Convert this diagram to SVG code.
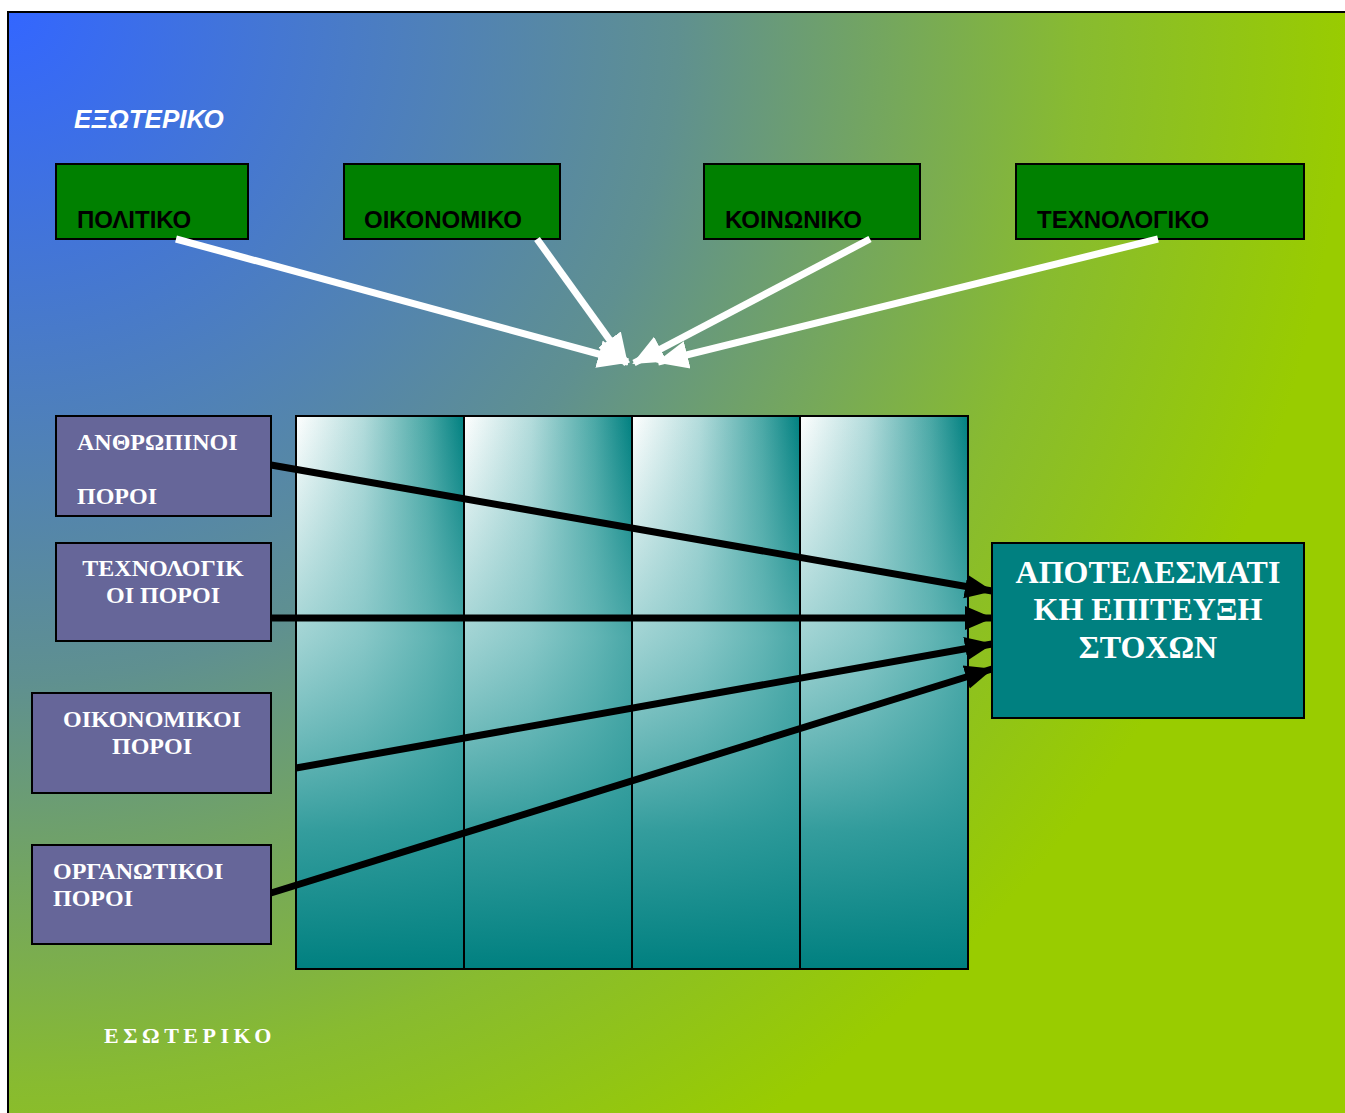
<svg xmlns="http://www.w3.org/2000/svg" width="1345" height="1113" viewBox="0 0 1345 1113">
<defs>
<radialGradient id="bg" gradientUnits="userSpaceOnUse" cx="8" cy="12" r="1340">
<stop offset="0" stop-color="#3366ff"/>
<stop offset="0.5" stop-color="#5f9090"/>
<stop offset="0.8" stop-color="#88bb30"/>
<stop offset="1" stop-color="#99cc00"/>
</radialGradient>
<linearGradient id="colH" x1="0" y1="0" x2="1" y2="0">
<stop offset="0" stop-color="#ffffff"/>
<stop offset="0.4" stop-color="#b4dcdc"/>
<stop offset="0.78" stop-color="#4aa8a6"/>
<stop offset="1" stop-color="#008080"/>
</linearGradient>
<linearGradient id="colV" x1="0" y1="0" x2="0" y2="1">
<stop offset="0" stop-color="#6fbcbc" stop-opacity="0"/>
<stop offset="0.4" stop-color="#6fbcbc" stop-opacity="0.65"/>
<stop offset="0.75" stop-color="#2a9898" stop-opacity="0.95"/>
<stop offset="1" stop-color="#008080" stop-opacity="1"/>
</linearGradient>
<marker id="wh" markerUnits="userSpaceOnUse" markerWidth="32" markerHeight="32" viewBox="0 0 32 32" refX="30" refY="16" orient="auto">
<path d="M0,2 L32,16 L0,30 Z" fill="#ffffff"/>
</marker>
<marker id="bk" markerUnits="userSpaceOnUse" markerWidth="28" markerHeight="28" viewBox="0 0 28 28" refX="27" refY="14" orient="auto">
<path d="M0,2 L28,14 L0,26 Z" fill="#000000"/>
</marker>
</defs>
<style>
.gbox{fill:#008000;stroke:#000;stroke-width:2}
.gtxt{font-family:"Liberation Sans",Arial,sans-serif;font-weight:bold;font-size:24px;fill:#000}
.pbox{fill:#666699;stroke:#000;stroke-width:2}
.ptxt{font-family:"Liberation Serif","Times New Roman",serif;font-weight:bold;font-size:24px;fill:#fff}
.col{stroke:#000;stroke-width:2}
.wa{stroke:#fff;stroke-width:7;fill:none}
.ba{stroke:#000;stroke-width:7;fill:none}
</style>
<rect x="0" y="0" width="1345" height="1113" fill="#ffffff"/>
<rect x="8" y="12" width="1340" height="1105" fill="url(#bg)" stroke="#000" stroke-width="2"/>

<text x="74" y="128" font-family="Liberation Sans,Arial,sans-serif" font-weight="bold" font-style="italic" font-size="26" fill="#fff">ΕΞΩΤΕΡΙΚΟ</text>
<text x="104" y="1043" font-family="Liberation Serif,Times New Roman,serif" font-weight="bold" font-size="22" letter-spacing="4.5" fill="#fff">ΕΣΩΤΕΡΙΚΟ</text>

<g id="columns">
<g id="col1"><rect x="296" y="416" width="168" height="553" fill="url(#colH)"/><rect class="col" x="296" y="416" width="168" height="553" fill="url(#colV)"/></g>
<g id="col2"><rect x="464" y="416" width="168" height="553" fill="url(#colH)"/><rect class="col" x="464" y="416" width="168" height="553" fill="url(#colV)"/></g>
<g id="col3"><rect x="632" y="416" width="168" height="553" fill="url(#colH)"/><rect class="col" x="632" y="416" width="168" height="553" fill="url(#colV)"/></g>
<g id="col4"><rect x="800" y="416" width="168" height="553" fill="url(#colH)"/><rect class="col" x="800" y="416" width="168" height="553" fill="url(#colV)"/></g>
</g>

<g id="politiko"><rect class="gbox" x="56" y="164" width="192" height="75"/><text class="gtxt" x="77" y="228">ΠΟΛΙΤΙΚΟ</text></g>
<g id="oikonomiko"><rect class="gbox" x="344" y="164" width="216" height="75"/><text class="gtxt" x="364" y="228">ΟΙΚΟΝΟΜΙΚΟ</text></g>
<g id="koinoniko"><rect class="gbox" x="704" y="164" width="216" height="75"/><text class="gtxt" x="725" y="228">ΚΟΙΝΩΝΙΚΟ</text></g>
<g id="technologiko"><rect class="gbox" x="1016" y="164" width="288" height="75"/><text class="gtxt" x="1037" y="228">ΤΕΧΝΟΛΟΓΙΚΟ</text></g>

<g id="anthropinoi"><rect class="pbox" x="56" y="416" width="215" height="100"/><text class="ptxt" x="77" y="450">ΑΝΘΡΩΠΙΝΟΙ</text><text class="ptxt" x="77" y="504">ΠΟΡΟΙ</text></g>
<g id="technologikoi"><rect class="pbox" x="56" y="543" width="215" height="98"/><text class="ptxt" x="163" y="576" text-anchor="middle">ΤΕΧΝΟΛΟΓΙΚ</text><text class="ptxt" x="163" y="603" text-anchor="middle">ΟΙ ΠΟΡΟΙ</text></g>
<g id="oikonomikoi"><rect class="pbox" x="32" y="693" width="239" height="100"/><text class="ptxt" x="152" y="727" text-anchor="middle">ΟΙΚΟΝΟΜΙΚΟΙ</text><text class="ptxt" x="152" y="754" text-anchor="middle">ΠΟΡΟΙ</text></g>
<g id="organotikoi"><rect class="pbox" x="32" y="845" width="239" height="99"/><text class="ptxt" x="53" y="879">ΟΡΓΑΝΩΤΙΚΟΙ</text><text class="ptxt" x="53" y="906">ΠΟΡΟΙ</text></g>

<g id="stoxoi"><rect x="992" y="543" width="312" height="175" fill="#008080" stroke="#000" stroke-width="2"/>
<g font-family="Liberation Serif,Times New Roman,serif" font-weight="bold" font-size="32" fill="#fff" text-anchor="middle">
<text x="1148" y="583">ΑΠΟΤΕΛΕΣΜΑΤΙ</text><text x="1148" y="620">ΚΗ ΕΠΙΤΕΥΞΗ</text><text x="1148" y="658">ΣΤΟΧΩΝ</text></g></g>

<g id="connectors">
<line class="wa" x1="176" y1="239" x2="628" y2="362" marker-end="url(#wh)"/>
<line class="wa" x1="537" y1="239" x2="627" y2="364" marker-end="url(#wh)"/>
<line class="wa" x1="870" y1="239" x2="634" y2="363" marker-end="url(#wh)"/>
<line class="wa" x1="1158" y1="239" x2="658" y2="362" marker-end="url(#wh)"/>
<line class="ba" x1="271" y1="465" x2="992" y2="591" marker-end="url(#bk)"/>
<line class="ba" x1="271" y1="618" x2="992" y2="618" marker-end="url(#bk)"/>
<line class="ba" x1="296" y1="768" x2="992" y2="644" marker-end="url(#bk)"/>
<line class="ba" x1="271" y1="893" x2="992" y2="669" marker-end="url(#bk)"/>
</g>
</svg>
